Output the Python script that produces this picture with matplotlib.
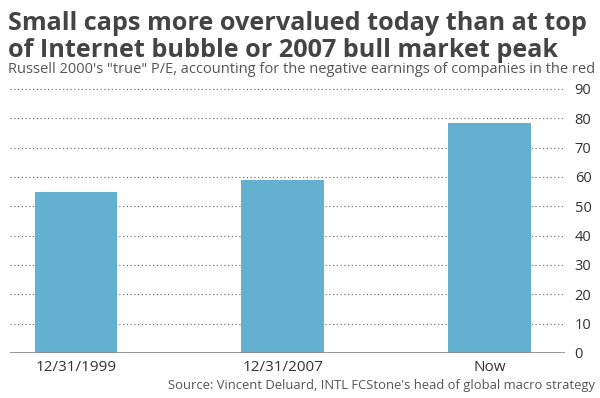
import matplotlib.pyplot as plt
import numpy as np

# chart data
categories = ["12/31/1999", "12/31/2007", "Now"]
pe_values = [55, 59, 78.5]
y_ticks = [0, 10, 20, 30, 40, 50, 60, 70, 80, 90]

plt.rcParams['font.family'] = ['Open Sans', 'DejaVu Sans']

fig = plt.figure(figsize=(6, 3.98), dpi=100)
ax = fig.add_axes([10 / 600, 45 / 398, 555 / 600, 264 / 398])

x = np.arange(len(categories))
ax.bar(x, pe_values, width=0.40, color="#64b0d0", zorder=3)

ax.set_xlim(-0.319, 2.365)
ax.set_ylim(0, 90)

# dotted gridlines
for t in y_ticks[1:]:
    ax.axhline(t, color="#777777", linestyle=(0, (1, 2)), linewidth=0.9, zorder=1, clip_on=False)
ax.axhline(0, color="#888888", linewidth=1.2, zorder=4)

for s in ax.spines.values():
    s.set_visible(False)

ax.yaxis.tick_right()
ax.set_yticks(y_ticks)
ax.set_yticklabels([str(t) for t in y_ticks], fontsize=10.5, color="#333333")
ax.tick_params(axis="y", length=0, pad=7)
ax.set_xticks(x)
ax.set_xticklabels(categories, fontsize=11, color="#333333")
ax.tick_params(axis="x", length=0, pad=5)

fig.text(8 / 600, 1 - 30 / 398, "Small caps more overvalued today than at top",
         fontsize=18.2, fontweight="bold", color="#444444", ha="left", va="baseline")
fig.text(8 / 600, 1 - 57 / 398, "of Internet bubble or 2007 bull market peak",
         fontsize=18.2, fontweight="bold", color="#444444", ha="left", va="baseline")
fig.text(8 / 600, 1 - 73 / 398,
         "Russell 2000's \"true\" P/E, accounting for the negative earnings of companies in the red",
         fontsize=10.5, color="#555555", ha="left", va="baseline")
fig.text(595 / 600, 1 - 389 / 398,
         "Source: Vincent Deluard, INTL FCStone's head of global macro strategy",
         fontsize=9.4, color="#555555", ha="right", va="baseline")

fig.savefig("out.png", dpi=100)
